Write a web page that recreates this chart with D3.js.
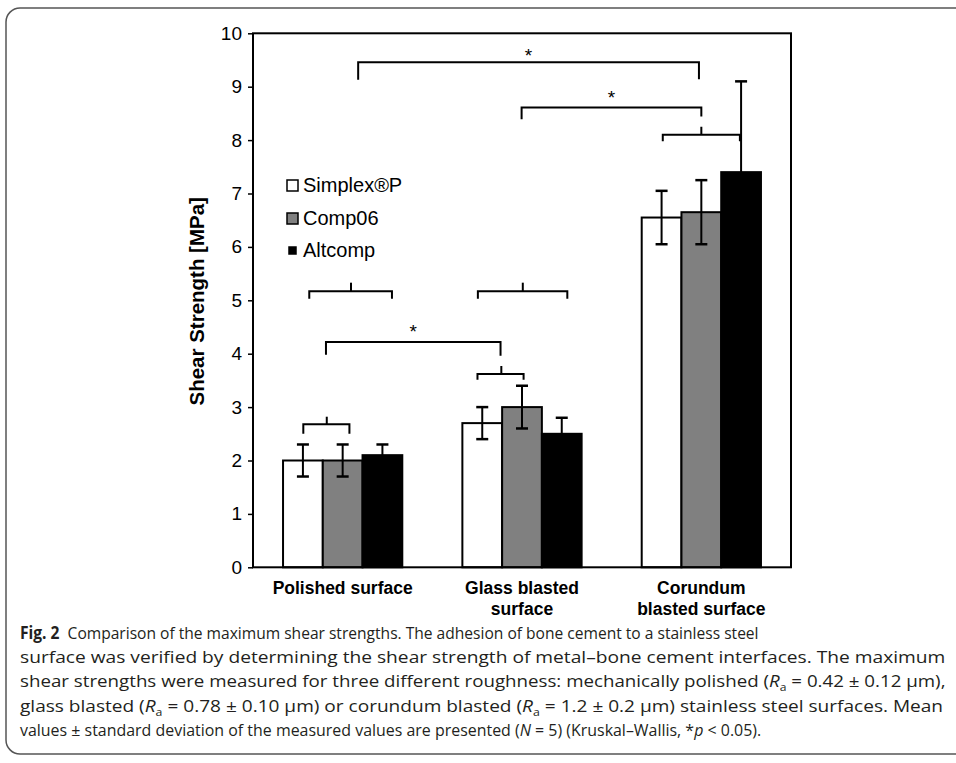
<!DOCTYPE html>
<html>
<head>
<meta charset="utf-8">
<script src="https://cdn.jsdelivr.net/npm/d3@7"></script>
<style>
  body { margin: 0; background: #fff; }
  svg { display: block; }
</style>
</head>
<body>
<div id="chart"></div>
<script>
// chart data
const categories = ["Polished surface", "Glass blasted surface", "Corundum blasted surface"];
const categoryLabels = [["Polished surface"], ["Glass blasted", "surface"], ["Corundum", "blasted surface"]];
const seriesNames = ["Simplex®P", "Comp06", "Altcomp"];
const simplexMeans = [2.0, 2.7, 6.55];
const simplexSD = [0.3, 0.3, 0.5];
const comp06Means = [2.0, 3.0, 6.65];
const comp06SD = [0.3, 0.4, 0.6];
const altcompMeans = [2.1, 2.5, 7.4];
const altcompSD = [0.2, 0.3, 1.7];
const yTicks = [0, 1, 2, 3, 4, 5, 6, 7, 8, 9, 10];

// significance brackets: [group, slot] in bar units, heights in MPa
const groupBrackets = [
  { g: 0, s1: 0.51, s2: 1.67, sm: 1.10, y: 2.68, tip: 2.50, top: 2.82 },
  { g: 1, s1: 0.38, s2: 1.54, sm: 0.98, y: 3.62, tip: 3.51, top: 3.77 },
  { g: 0, s1: 0.66, s2: 2.74, sm: 1.71, y: 5.17, tip: 5.03, top: 5.33 },
  { g: 1, s1: 0.39, s2: 2.64, sm: 1.52, y: 5.17, tip: 5.03, top: 5.33 },
  { g: 2, s1: 0.53, s2: 2.47, sm: 1.50, y: 8.10, tip: 7.98, top: 8.25 }
];
const starBrackets = [
  { g1: 0, s1: 1.08, g2: 1, s2: 0.96, y: 4.22, tip1: 3.98, tip2: 3.96, star: 4.49 },
  { g1: 1, s1: 1.49, g2: 2, s2: 1.50, y: 8.61, tip1: 8.39, tip2: 8.44, star: 8.86 },
  { g1: 0, s1: 1.89, g2: 2, s2: 1.44, y: 9.46, tip1: 9.13, tip2: 9.14, star: 9.65 }
];

const captionLines = [
  [["Fig. 2", "b"], ["  Comparison of the maximum shear strengths. The adhesion of bone cement to a stainless steel"]],
  [["surface was verified by determining the shear strength of metal–bone cement interfaces. The maximum"]],
  [["shear strengths were measured for three different roughness: mechanically polished ("], ["R", "i"], ["a", "sub"], [" = 0.42 ± 0.12 μm),"]],
  [["glass blasted ("], ["R", "i"], ["a", "sub"], [" = 0.78 ± 0.10 μm) or corundum blasted ("], ["R", "i"], ["a", "sub"], [" = 1.2 ± 0.2 μm) stainless steel surfaces. Mean"]],
  [["values ± standard deviation of the measured values are presented ("], ["N", "i"], [" = 5) (Kruskal–Wallis, *"], ["p", "i"], [" < 0.05)."]]
];
const captionWidths = [739, 926, 926, 924, 742];

// layout
const CONFIG = {
  width: 956,
  height: 763,
  plot: { left: 253, right: 791, top: 33.3, bottom: 567.3 },
  fills: ["#ffffff", "#808080", "#000000"],
  font: "'Liberation Sans', Arial, sans-serif",
  captionFont: "'Open Sans', 'Noto Sans', sans-serif"
};

const svg = d3.select("#chart").append("svg")
  .attr("width", CONFIG.width)
  .attr("height", CONFIG.height);

svg.append("rect").attr("width", CONFIG.width).attr("height", CONFIG.height).attr("fill", "#fff");

// outer figure border (rounded, runs off the right edge)
svg.append("rect")
  .attr("x", 6).attr("y", 8)
  .attr("width", 1000).attr("height", 746)
  .attr("rx", 14)
  .attr("fill", "none")
  .attr("stroke", "#555")
  .attr("stroke-width", 1.5);

const x0 = d3.scaleBand()
  .domain(categories)
  .range([CONFIG.plot.left, CONFIG.plot.right])
  .paddingInner(0.335)
  .paddingOuter(0.1675);

const x1 = d3.scaleBand()
  .domain(seriesNames)
  .range([0, x0.bandwidth()]);

const y = d3.scaleLinear()
  .domain([0, 10])
  .range([CONFIG.plot.bottom, CONFIG.plot.top]);

const slotX = (g, s) => x0(categories[g]) + s * x1.bandwidth();

const means = [simplexMeans, comp06Means, altcompMeans];
const sds = [simplexSD, comp06SD, altcompSD];
const barData = [];
categories.forEach((c, gi) => {
  seriesNames.forEach((s, si) => {
    barData.push({ category: c, series: s, si, mean: means[si][gi], sd: sds[si][gi] });
  });
});

// bars
svg.append("g").selectAll("rect")
  .data(barData)
  .join("rect")
  .attr("x", d => x0(d.category) + x1(d.series))
  .attr("y", d => y(d.mean))
  .attr("width", x1.bandwidth())
  .attr("height", d => y(0) - y(d.mean))
  .attr("fill", d => CONFIG.fills[d.si])
  .attr("stroke", "#000")
  .attr("stroke-width", 2);

// error bars
const err = svg.append("g").attr("stroke", "#000").attr("stroke-width", 2);
barData.forEach(d => {
  const cx = x0(d.category) + x1(d.series) + x1.bandwidth() / 2;
  err.append("line").attr("x1", cx).attr("x2", cx).attr("y1", y(d.mean - d.sd)).attr("y2", y(d.mean + d.sd));
  [d.mean - d.sd, d.mean + d.sd].forEach(v => {
    err.append("line").attr("x1", cx - 6).attr("x2", cx + 6).attr("y1", y(v)).attr("y2", y(v)).attr("stroke-width", 2.5);
  });
});

// brackets
const br = svg.append("g").attr("fill", "none").attr("stroke", "#000").attr("stroke-width", 2);
groupBrackets.forEach(b => {
  const xa = slotX(b.g, b.s1), xb = slotX(b.g, b.s2), xm = slotX(b.g, b.sm);
  br.append("path").attr("d", `M${xa},${y(b.tip)}V${y(b.y)}H${xb}V${y(b.tip)}`);
  br.append("path").attr("d", `M${xm},${y(b.y)}V${y(b.top)}`);
});
starBrackets.forEach(b => {
  const xa = slotX(b.g1, b.s1), xb = slotX(b.g2, b.s2);
  br.append("path").attr("d", `M${xa},${y(b.tip1)}V${y(b.y)}H${xb}V${y(b.tip2)}`);
  svg.append("text")
    .attr("x", (xa + xb) / 2)
    .attr("y", y(b.star) + 10)
    .attr("text-anchor", "middle")
    .style("font-family", CONFIG.font)
    .style("font-size", "19px")
    .text("*");
});

// y axis
svg.append("g")
  .attr("transform", `translate(${CONFIG.plot.left},0)`)
  .call(d3.axisLeft(y).tickValues(yTicks).tickSize(5).tickPadding(6).tickFormat(d3.format("d")))
  .call(g => g.select(".domain").remove())
  .call(g => g.selectAll(".tick line").attr("stroke", "#000").attr("stroke-width", 1.5))
  .call(g => g.selectAll(".tick text")
    .attr("fill", "#000")
    .style("font-family", CONFIG.font)
    .style("font-size", "19px"));

// plot frame
svg.append("rect")
  .attr("x", CONFIG.plot.left)
  .attr("y", CONFIG.plot.top)
  .attr("width", CONFIG.plot.right - CONFIG.plot.left)
  .attr("height", CONFIG.plot.bottom - CONFIG.plot.top)
  .attr("fill", "none")
  .attr("stroke", "#000")
  .attr("stroke-width", 2);

// y label
svg.append("text")
  .attr("transform", `translate(204,${(CONFIG.plot.top + CONFIG.plot.bottom) / 2 + 1}) rotate(-90)`)
  .attr("text-anchor", "middle")
  .style("font-family", CONFIG.font)
  .style("font-size", "20.5px")
  .style("font-weight", "bold")
  .text("Shear Strength [MPa]");

// x category labels
categories.forEach((c, i) => {
  const t = svg.append("text")
    .attr("text-anchor", "middle")
    .style("font-family", CONFIG.font)
    .style("font-size", "17.5px")
    .style("font-weight", "bold");
  categoryLabels[i].forEach((line, j) => {
    t.append("tspan")
      .attr("x", x0(c) + x0.bandwidth() / 2)
      .attr("y", 594 + j * 21)
      .text(line);
  });
});

// legend
const legendY = [192, 225, 257];
const legendBox = [{ s: 11, x: 287 }, { s: 11, x: 287 }, { s: 7, x: 289 }];
seriesNames.forEach((name, i) => {
  const b = legendBox[i];
  svg.append("rect")
    .attr("x", b.x).attr("y", legendY[i] - 6.5 - b.s / 2)
    .attr("width", b.s).attr("height", b.s)
    .attr("fill", CONFIG.fills[i])
    .attr("stroke", "#000")
    .attr("stroke-width", 1.5);
  svg.append("text")
    .attr("x", 303)
    .attr("y", legendY[i])
    .style("font-family", CONFIG.font)
    .style("font-size", "20px")
    .text(name);
});

// caption: each line is scaled horizontally to the width it has in the figure
captionLines.forEach((segs, i) => {
  const t = svg.append("text")
    .attr("x", 0)
    .attr("y", 0)
    .style("font-family", CONFIG.captionFont)
    .style("font-size", "17px")
    .style("white-space", "pre")
    .attr("fill", "#231f20");
  let shifted = false;
  segs.forEach(([txt, kind]) => {
    const ts = t.append("tspan").text(txt);
    if (shifted) { ts.attr("dy", -4); shifted = false; }
    if (kind === "b") ts.style("font-weight", "bold");
    if (kind === "i") ts.style("font-style", "italic");
    if (kind === "sub") { ts.attr("dy", 4).style("font-size", "11px"); shifted = true; }
  });
  const k = captionWidths[i] / t.node().getComputedTextLength();
  t.attr("transform", `translate(20,${639 + i * 24.2}) scale(${k},1)`);
});
</script>
</body>
</html>
